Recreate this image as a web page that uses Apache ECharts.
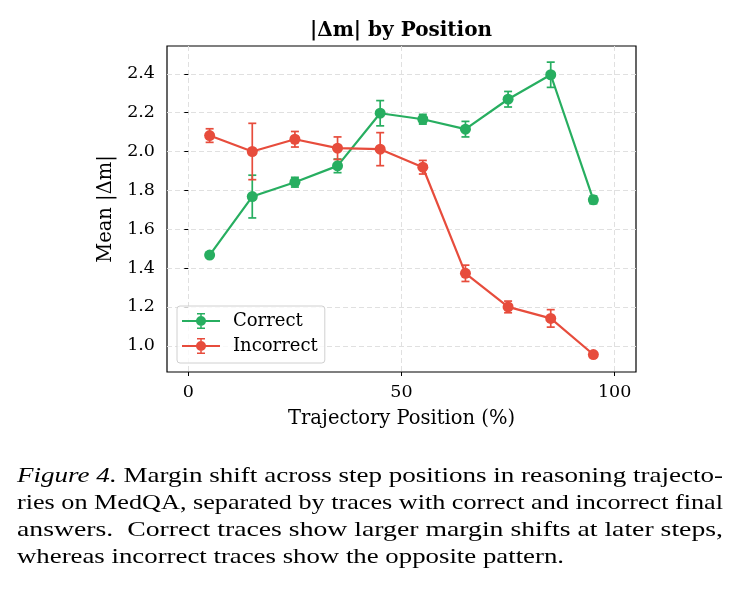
<!DOCTYPE html>
<html>
<head>
<meta charset="utf-8">
<script src="https://cdn.jsdelivr.net/npm/echarts@6/dist/echarts.min.js"></script>
<style>
  html, body { margin: 0; padding: 0; background: #fff; }
  #chart { width: 739px; height: 595px; }
</style>
</head>
<body>
<div id="chart"></div>
<script>
// trajectory position (%)
const positions = [5, 15, 25, 35, 45, 55, 65, 75, 85, 95]
// mean |Δm| and error
const correctMean = [1.467, 1.768, 1.842, 1.926, 2.197, 2.166, 2.115, 2.269, 2.395, 1.751]
const correctErr = [0.012, 0.110, 0.025, 0.035, 0.065, 0.025, 0.040, 0.040, 0.065, 0.020]
const incorrectMean = [2.082, 2.000, 2.063, 2.017, 2.012, 1.919, 1.373, 1.200, 1.141, 0.955]
const incorrectErr = [0.035, 0.145, 0.040, 0.058, 0.085, 0.035, 0.042, 0.030, 0.045, 0.010]
const yTicks = [1.0, 1.2, 1.4, 1.6, 1.8, 2.0, 2.2, 2.4]
const xTicks = [0, 50, 100]

const captionLines = [
  ['Figure 4.', ' Margin shift across step positions in reasoning trajecto-'],
  ['', 'ries on MedQA, separated by traces with correct and incorrect final'],
  ['', 'answers.  Correct traces show larger margin shifts at later steps,'],
  ['', 'whereas incorrect traces show the opposite pattern.']
]

const GREEN = '#27ae60'
const RED = '#e74c3c'
const SERIF = 'DejaVu Serif'
const CAP_FAMILY = '"Liberation Serif", "Times New Roman", Times, serif'
const CAP_SIZE = 21

const lineData = (ys) => positions.map((x, i) => [x, ys[i]])
const errData = (ys, es) => positions.map((x, i) => [x, ys[i] - es[i], ys[i] + es[i]])

function errorBarItem(params, api) {
  const x = api.value(0)
  const lo = api.coord([x, api.value(1)])
  const hi = api.coord([x, api.value(2)])
  const w = 4
  const style = { stroke: api.visual('color'), lineWidth: 1.7 }
  return {
    type: 'group',
    children: [
      { type: 'line', shape: { x1: lo[0], y1: lo[1], x2: hi[0], y2: hi[1] }, style },
      { type: 'line', shape: { x1: lo[0] - w, y1: lo[1], x2: lo[0] + w, y2: lo[1] }, style },
      { type: 'line', shape: { x1: hi[0] - w, y1: hi[1], x2: hi[0] + w, y2: hi[1] }, style }
    ]
  }
}

// legend handle: line + errorbar + marker
const handleIcon = 'path://M0,7H38V9H0Z M18.25,0H19.75V16H18.25Z M15,0H23V1.5H15Z M15,14.5H23V16H15Z M14,8A5,5 0 1,1 24,8A5,5 0 1,1 14,8Z'

// caption: each line stretched to the justified width
const ctx = document.createElement('canvas').getContext('2d')
function measure(parts) {
  ctx.font = 'italic ' + CAP_SIZE + 'px ' + CAP_FAMILY
  let w = ctx.measureText(parts[0]).width
  ctx.font = CAP_SIZE + 'px ' + CAP_FAMILY
  return w + ctx.measureText(parts[1]).width
}
const capLeft = 17
const capWidths = [706, 706, 706, 547]
const capMid = [476, 503, 530, 557]
const captionGraphics = captionLines.map((p, i) => ({
  type: 'text',
  x: capLeft,
  y: capMid[i],
  scaleX: capWidths[i] / measure(p),
  style: {
    text: (p[0] ? '{i|' + p[0] + '}' : '') + '{r|' + p[1] + '}',
    fontFamily: CAP_FAMILY,
    fontSize: CAP_SIZE,
    fill: '#000',
    verticalAlign: 'middle',
    rich: {
      i: { fontStyle: 'italic', fontFamily: CAP_FAMILY, fontSize: CAP_SIZE, color: '#000' },
      r: { fontFamily: CAP_FAMILY, fontSize: CAP_SIZE, color: '#000' }
    }
  }
}))

const chart = echarts.init(document.getElementById('chart'))
const option = {
  animation: false,
  backgroundColor: '#fff',
  title: {
    text: '|Δm| by Position',
    left: 401,
    top: 21,
    padding: 0,
    textAlign: 'center',
    textStyle: { fontFamily: SERIF, fontWeight: 'bold', fontSize: 20, color: '#000' }
  },
  grid: {
    left: 167, right: 103, top: 46, bottom: 223,
    show: true, borderColor: '#000', borderWidth: 1.2
  },
  legend: {
    orient: 'vertical',
    left: 177,
    top: 306,
    padding: [6, 7, 8, 5],
    itemGap: 7,
    itemWidth: 38,
    itemHeight: 16,
    borderColor: '#d0d0d0',
    borderWidth: 1,
    borderRadius: 3,
    backgroundColor: 'rgba(255,255,255,0.8)',
    textStyle: { fontFamily: SERIF, fontSize: 18, color: '#000', lineHeight: 18, padding: [0, 0, 0, 8] },
    data: [
      { name: 'Correct', icon: handleIcon, itemStyle: { color: GREEN, borderWidth: 0 } },
      { name: 'Incorrect', icon: handleIcon, itemStyle: { color: RED, borderWidth: 0 } }
    ]
  },
  xAxis: {
    type: 'value',
    min: -5,
    max: 105,
    name: 'Trajectory Position (%)',
    nameLocation: 'middle',
    nameGap: 37,
    nameTextStyle: { fontFamily: SERIF, fontSize: 19.5, color: '#000' },
    axisLine: { show: false },
    axisTick: { show: true, length: 4, lineStyle: { color: '#000' }, customValues: xTicks },
    axisLabel: { customValues: xTicks, fontFamily: SERIF, fontSize: 17.5, color: '#000', margin: 11 },
    splitLine: { show: true, lineStyle: { color: '#e0e0e0', type: [5, 3], width: 1 } }
  },
  yAxis: {
    type: 'value',
    min: 0.865,
    max: 2.543,
    name: 'Mean |Δm|',
    nameLocation: 'middle',
    nameGap: 44,
    nameTextStyle: { fontFamily: SERIF, fontSize: 19.5, color: '#000' },
    axisLine: { show: false },
    axisTick: { show: true, length: 4, lineStyle: { color: '#000' }, customValues: yTicks },
    axisLabel: {
      customValues: yTicks,
      formatter: (v) => v.toFixed(1),
      fontFamily: SERIF, fontSize: 17.5, color: '#000', margin: 12
    },
    splitLine: { show: true, lineStyle: { color: '#e0e0e0', type: [5, 3], width: 1 } }
  },
  series: [
    {
      name: 'Correct',
      type: 'line',
      data: lineData(correctMean),
      color: GREEN,
      symbol: 'circle',
      symbolSize: 11,
      lineStyle: { width: 2.2, color: GREEN },
      itemStyle: { color: GREEN },
      z: 3
    },
    {
      name: 'Correct err',
      type: 'custom',
      renderItem: errorBarItem,
      data: errData(correctMean, correctErr),
      encode: { x: 0, y: [1, 2] },
      itemStyle: { color: GREEN },
      z: 3
    },
    {
      name: 'Incorrect',
      type: 'line',
      data: lineData(incorrectMean),
      color: RED,
      symbol: 'circle',
      symbolSize: 11,
      lineStyle: { width: 2.2, color: RED },
      itemStyle: { color: RED },
      z: 4
    },
    {
      name: 'Incorrect err',
      type: 'custom',
      renderItem: errorBarItem,
      data: errData(incorrectMean, incorrectErr),
      encode: { x: 0, y: [1, 2] },
      itemStyle: { color: RED },
      z: 4
    }
  ],
  graphic: captionGraphics
}
chart.setOption(option)
</script>
</body>
</html>
